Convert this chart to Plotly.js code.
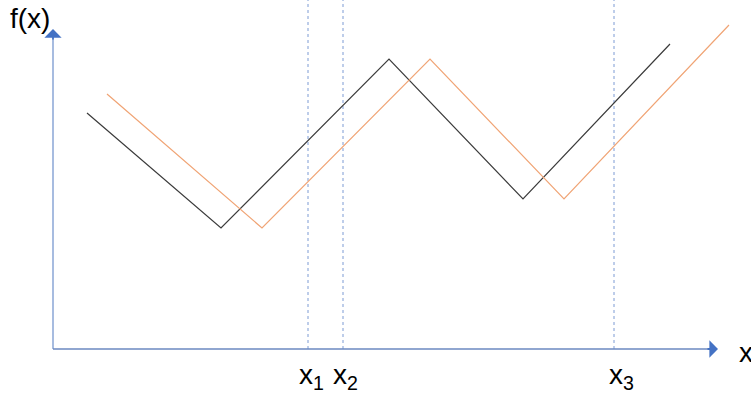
<!DOCTYPE html>
<html>
<head>
<meta charset="utf-8">
<script src="https://cdn.plot.ly/plotly-3.0.1.min.js"></script>
<style>
  html, body { margin: 0; padding: 0; background: #fff; }
  #plotDiv { width: 751px; height: 397px; }
</style>
</head>
<body>
<div id="plotDiv"></div>
<script>
// zig-zag curves (origin at the axes corner)
let blackX = [34, 168, 336, 470, 617];
let blackY = [236, 121, 290, 150, 305];
let orangeX = [54, 209, 377, 511, 676];
let orangeY = [255, 121, 290, 150, 324];

// dotted markers on the x axis
let markX = [255, 290, 561];
let markLabels = ["x<sub>1</sub>", "x<sub>2</sub>", "x<sub>3</sub>"];
let labelX = [258, 292, 568];

let data = [];

for (let i = 0; i < markX.length; i++) {
  data.push({
    x: [markX[i], markX[i]],
    y: [0, 349],
    mode: "lines",
    line: {color: "#7c9bd4", width: 1, dash: "dot"},
    hoverinfo: "skip"
  });
}

data.push({
  x: blackX,
  y: blackY,
  mode: "lines",
  line: {color: "#3b3b3b", width: 1.2},
  hoverinfo: "skip"
});
data.push({
  x: orangeX,
  y: orangeY,
  mode: "lines",
  line: {color: "#f0a475", width: 1.2},
  hoverinfo: "skip"
});

let annotations = [];
let font = {family: "Liberation Sans, Arial, sans-serif", size: 28, color: "#000"};

for (let i = 0; i < markLabels.length; i++) {
  annotations.push({
    x: labelX[i], y: -27, xref: "x", yref: "y",
    text: markLabels[i], showarrow: false, font: font
  });
}
annotations.push({
  x: -23, y: 331, xref: "x", yref: "y",
  text: "f(x)", showarrow: false, font: font
});
annotations.push({
  x: 684, y: -3, xref: "x", yref: "y", xanchor: "left",
  text: "x", showarrow: false, font: font
});
// arrow heads
annotations.push({
  x: 0, y: 320, ax: 0, ay: 308, xref: "x", yref: "y", axref: "x", ayref: "y",
  text: "", showarrow: true, arrowhead: 1, arrowsize: 1.6, arrowwidth: 1.8,
  arrowcolor: "#4472c4"
});
annotations.push({
  x: 665, y: 0, ax: 653, ay: 0, xref: "x", yref: "y", axref: "x", ayref: "y",
  text: "", showarrow: true, arrowhead: 1, arrowsize: 1.6, arrowwidth: 1.8,
  arrowcolor: "#4472c4"
});

let layout = {
  width: 751,
  height: 397,
  margin: {l: 0, r: 0, t: 0, b: 0},
  paper_bgcolor: "#fff",
  plot_bgcolor: "#fff",
  showlegend: false,
  hovermode: false,
  xaxis: {range: [-53, 698], visible: false, fixedrange: true},
  yaxis: {range: [-48, 349], visible: false, fixedrange: true},
  shapes: [
    {type: "line", xref: "x", yref: "y", x0: 0, y0: 0, x1: 0, y1: 310,
     line: {color: "#a7bce0", width: 2}},
    {type: "line", xref: "x", yref: "y", x0: 0, y0: 0, x1: 655, y1: 0,
     line: {color: "#6b89c0", width: 1.5}}
  ],
  annotations: annotations
};

Plotly.newPlot("plotDiv", data, layout, {staticPlot: true});
</script>
</body>
</html>
